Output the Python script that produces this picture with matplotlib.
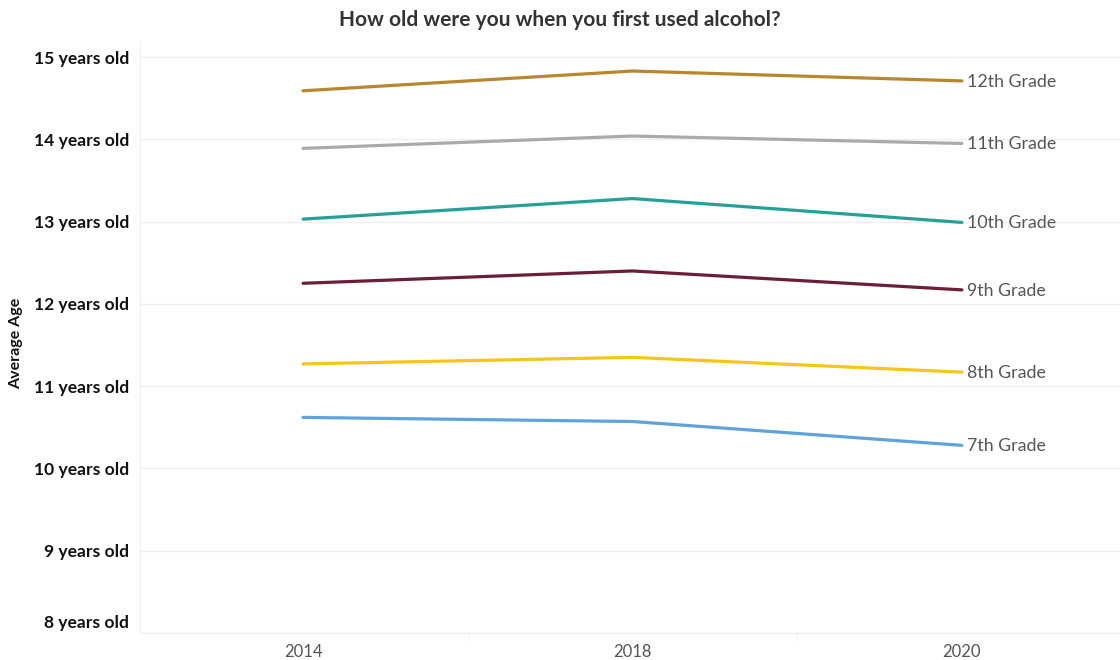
import numpy as np
import matplotlib.pyplot as plt
from matplotlib.transforms import ScaledTranslation

plt.rcParams['font.family'] = ['Lato', 'DejaVu Sans']

# Survey years and average age of first alcohol use per grade
years = ['2014', '2018', '2020']
grades = ['12th Grade', '11th Grade', '10th Grade', '9th Grade', '8th Grade', '7th Grade']
age_12 = [14.59, 14.83, 14.71]
age_11 = [13.89, 14.04, 13.95]
age_10 = [13.03, 13.28, 12.99]
age_9 = [12.25, 12.40, 12.17]
age_8 = [11.27, 11.35, 11.17]
age_7 = [10.62, 10.57, 10.28]
colors = ['#b8862f', '#aaaaaa', '#24a197', '#6b1e3a', '#f6c519', '#60a2da']
yticks = [8, 9, 10, 11, 12, 13, 14, 15]

series = [age_12, age_11, age_10, age_9, age_8, age_7]

fig = plt.figure(figsize=(11.2, 6.6), dpi=100)
ax = fig.add_axes([0.125, 0.041, 0.875, 0.895])

ind = np.arange(len(years))
for vals, name, col in zip(series, grades, colors):
	ax.plot(ind, vals, color=col, lw=2.3, solid_capstyle='round', zorder=3)
	ax.annotate(name, (ind[-1], vals[-1]), xytext=(3.5, -0.5), textcoords='offset points',
		ha='left', va='center', fontsize=12.8, color='#555555')

ax.set_xlim(-0.495, 2.48)
ax.set_ylim(8, 15.18)

# Horizontal grid only, very faint
ax.set_yticks(yticks)
ax.set_yticklabels(['%d years old' % t for t in yticks], fontsize=12.6,
	fontweight='bold', color='#111111')
ax.yaxis.grid(True, color='#efefef', lw=1)
ax.set_axisbelow(True)
ax.tick_params(axis='y', length=0, pad=8)
# the bottom label sits just above the axis edge
bottom_lbl = ax.get_yticklabels()[0]
bottom_lbl.set_va('bottom')
bottom_lbl.set_transform(bottom_lbl.get_transform() + ScaledTranslation(0, 0.02, fig.dpi_scale_trans))

ax.set_xticks(ind)
ax.set_xticklabels(years, fontsize=12, color='#555555')
ax.tick_params(axis='x', length=0, pad=8)
ax.set_xticks([0.5, 1.5], minor=True)
ax.tick_params(axis='x', which='minor', length=6, color='#eeeeee')

for side in ['top', 'right']:
	ax.spines[side].set_visible(False)
ax.spines['left'].set_color('#f0f0f0')
ax.spines['bottom'].set_color('#f0f0f0')

fig.text(0.014, 0.48, 'Average Age', rotation=90, ha='center', va='center',
	fontsize=11.5, fontweight='bold', color='#111111')
fig.text(0.5, 0.97, 'How old were you when you first used alcohol?', ha='center',
	va='center', fontsize=15, fontweight='bold', color='#333333')

plt.savefig('out.png')
